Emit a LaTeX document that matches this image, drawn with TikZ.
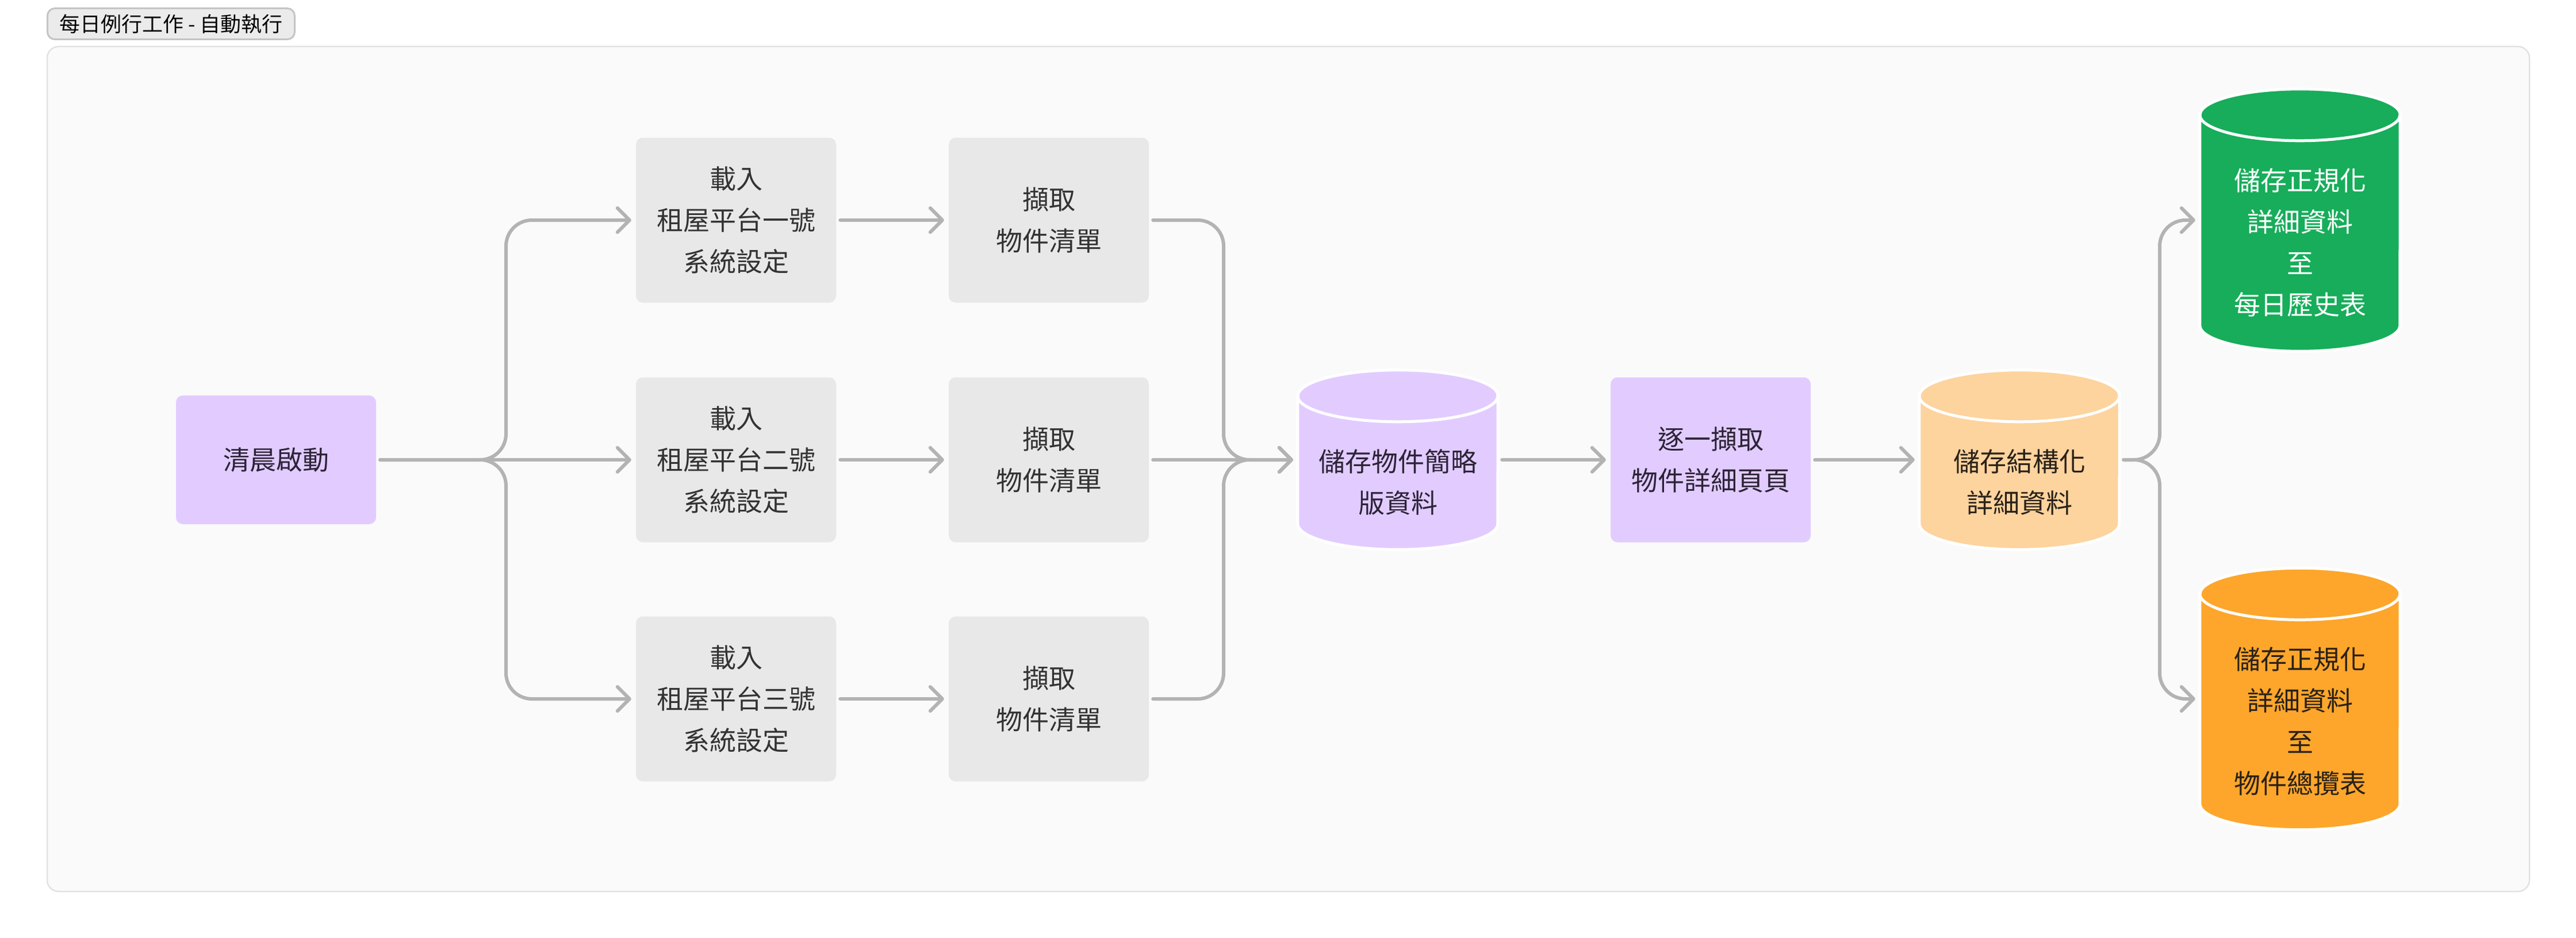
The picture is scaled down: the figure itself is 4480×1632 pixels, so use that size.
\documentclass[tikz,border=0pt]{standalone}
\usepackage{fontspec}
\setmainfont{Noto Sans CJK TC}
\usetikzlibrary{arrows.meta,calc}
\pgfdeclarelayer{back}
\pgfdeclarelayer{bg}
\pgfsetlayers{back,bg,main}
\definecolor{frameC}{HTML}{E2E2E2}
\definecolor{frameF}{HTML}{FAFAFA}
\definecolor{tagF}{HTML}{EBEBEB}
\definecolor{tagD}{HTML}{C4C4C4}
\definecolor{purp}{HTML}{E2CCFF}
\definecolor{ptext}{HTML}{2C2438}
\definecolor{grayF}{HTML}{E8E8E8}
\definecolor{gtext}{HTML}{333333}
\definecolor{peach}{HTML}{FDD39E}
\definecolor{greenF}{HTML}{17AD5A}
\definecolor{orangeF}{HTML}{FDA62B}
\definecolor{otext}{HTML}{2A2118}
\definecolor{lineC}{HTML}{B3B3B3}
\newcommand\cyltxt[1]{\raisebox{-42pt}[\height][\depth]{\begin{tabular}{@{}c@{}}#1\end{tabular}}}
\newcommand\drawcyl[2]{%
  \path let \p1=(#1.north west), \p2=(#1.south east) in
    [fill=#2] (\x1,\y1-45pt) -- (\x1,\y2+45pt)
      arc[start angle=180,end angle=360,x radius=174pt,y radius=45pt]
      -- (\x2,\y1-45pt)
      arc[start angle=0,end angle=180,x radius=174pt,y radius=45pt] -- cycle
    [draw=white,line width=5pt] (\x1,\y1-45pt)
      arc[start angle=180,end angle=360,x radius=174pt,y radius=45pt];}
\begin{document}
\begin{tikzpicture}[x=1pt,y=-1pt,
  txt/.style={font=\fontsize{46}{72}\selectfont},
  rectbox/.style={txt,rectangle,rounded corners=12pt,minimum width=348pt,minimum height=287pt,inner sep=0pt,align=center},
  purplebox/.style={rectbox,fill=purp,text=ptext},
  graybox/.style={rectbox,fill=grayF,text=gtext},
  cylnode/.style={txt,rectangle,minimum width=348pt,inner sep=0pt},
  conn/.style={draw=lineC,line width=6pt,line cap=round,line join=round,rounded corners=45pt,
    -{Straight Barb[round,length=21pt,width=42pt]},shorten <=7pt,shorten >=8pt}]
\useasboundingbox (0,0) rectangle (4480,1632);
\begin{pgfonlayer}{back}
  \fill[white] (0,0) rectangle (4480,1632);
  \draw[draw=frameC,fill=frameF,line width=2.5pt,rounded corners=20pt] (82,81) rectangle (4399,1551);
\end{pgfonlayer}
\node[anchor=north west,draw=tagD,fill=tagF,line width=3pt,rounded corners=13pt,
  minimum height=54pt,minimum width=430pt,inner xsep=18pt,inner ysep=0pt,font=\fontsize{36}{42}\selectfont,text=black]
  (tag) at (81,13) {每日例行工作 - 自動執行};
% nodes
\node[purplebox,minimum height=224pt] (start) at (480,800) {清晨啟動};
\node[graybox] (load1) at (1280,383) {載入\\租屋平台一號\\系統設定};
\node[graybox] (load2) at (1280,800) {載入\\租屋平台二號\\系統設定};
\node[graybox] (load3) at (1280,1216) {載入\\租屋平台三號\\系統設定};
\node[graybox] (fetch1) at (1824,383) {擷取\\物件清單};
\node[graybox] (fetch2) at (1824,800) {擷取\\物件清單};
\node[graybox] (fetch3) at (1824,1216) {擷取\\物件清單};
\node[cylnode,minimum height=312pt,text=ptext] (cyl1) at (2431,800) {\cyltxt{儲存物件簡略\\版資料}};
\node[purplebox] (detail) at (2975,800) {逐一擷取\\物件詳細頁頁};
\node[cylnode,minimum height=312pt,text=otext] (cyl2) at (3512,800) {\cyltxt{儲存結構化\\詳細資料}};
\node[cylnode,minimum height=456pt,text=white] (hist) at (4000,383) {\cyltxt{儲存正規化\\詳細資料\\至\\每日歷史表}};
\node[cylnode,minimum height=455pt,text=otext] (summ) at (4000,1216) {\cyltxt{儲存正規化\\詳細資料\\至\\物件總攬表}};
\begin{pgfonlayer}{bg}
  \drawcyl{cyl1}{purp}
  \drawcyl{cyl2}{peach}
  \drawcyl{hist}{greenF}
  \drawcyl{summ}{orangeF}
\end{pgfonlayer}
% junction coordinates
\coordinate (sx) at (880,800);
\coordinate (mx) at (2128,800);
\coordinate (rx) at (3756,800);
% connectors
\draw[conn] (start.east) -- (sx) |- (load1.west);
\draw[conn] (start.east) -- (load2.west);
\draw[conn] (start.east) -- (sx) |- (load3.west);
\draw[conn] (load1.east) -- (fetch1.west);
\draw[conn] (load2.east) -- (fetch2.west);
\draw[conn] (load3.east) -- (fetch3.west);
\draw[conn] (fetch1.east) -| (mx) -- (cyl1.west);
\draw[conn] (fetch2.east) -- (cyl1.west);
\draw[conn] (fetch3.east) -| (mx) -- (cyl1.west);
\draw[conn] (cyl1.east) -- (detail.west);
\draw[conn] (detail.east) -- (cyl2.west);
\draw[conn] (cyl2.east) -- (rx) |- (hist.west);
\draw[conn] (cyl2.east) -- (rx) |- (summ.west);
\end{tikzpicture}
\end{document}
